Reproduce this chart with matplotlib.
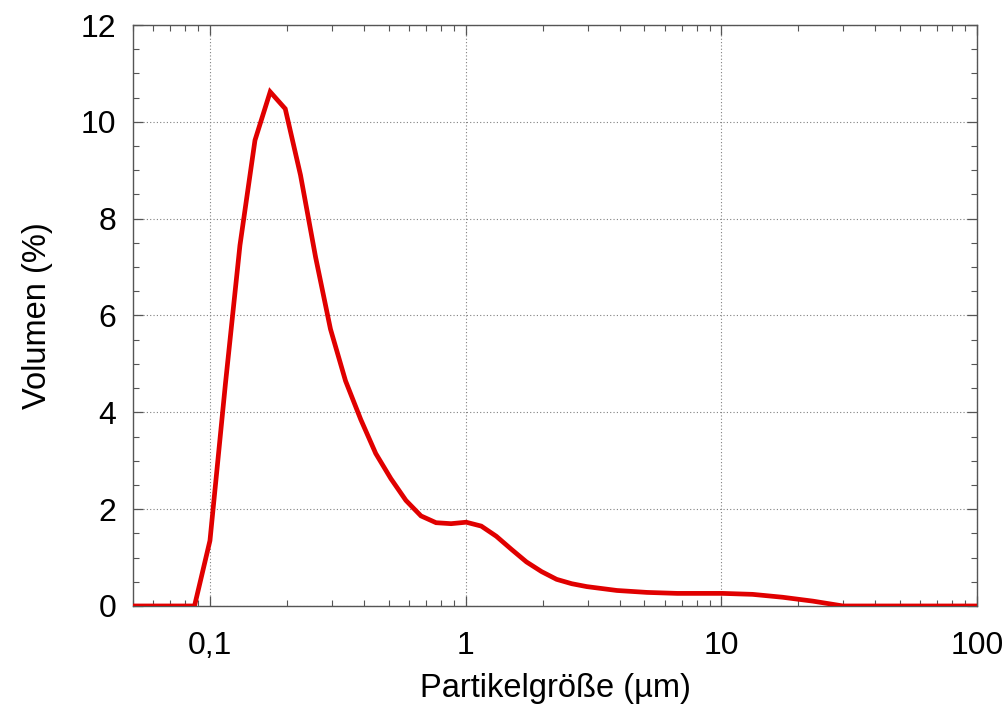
import numpy as np
import matplotlib.pyplot as plt
from matplotlib.ticker import FixedLocator, LogLocator, MultipleLocator, NullFormatter

# Partikelgrößenverteilung
groesse = [0.044, 0.051, 0.058, 0.067, 0.076, 0.087, 0.100, 0.115, 0.131, 0.150,
           0.172, 0.197, 0.226, 0.259, 0.296, 0.339, 0.389, 0.445, 0.510, 0.584,
           0.669, 0.766, 0.877, 1.005, 1.151, 1.318, 1.510, 1.729, 1.981, 2.269,
           2.599, 2.976, 3.409, 3.905, 4.472, 5.122, 5.867, 6.720, 7.697, 8.816,
           10.097, 11.565, 13.246, 15.172, 17.377, 19.904, 22.797, 26.111, 29.907, 34.255,
           39.234, 44.938, 51.471, 58.953, 67.523, 77.339, 88.583, 101.46]
volumen = [0, 0, 0, 0, 0, 0, 1.35, 4.6, 7.45, 9.62,
           10.62, 10.27, 8.9, 7.2, 5.72, 4.65, 3.85, 3.15, 2.63, 2.18,
           1.86, 1.72, 1.70, 1.73, 1.65, 1.44, 1.17, 0.91, 0.71, 0.55,
           0.46, 0.40, 0.36, 0.32, 0.30, 0.28, 0.27, 0.26, 0.26, 0.26,
           0.26, 0.25, 0.24, 0.21, 0.18, 0.14, 0.10, 0.05, 0, 0,
           0, 0, 0, 0, 0, 0, 0, 0]

xticks = [0.1, 1, 10, 100]
xticklabels = ['0,1', '1', '10', '100']

plt.rcParams['font.family'] = ['Liberation Sans', 'DejaVu Sans']

fig = plt.figure(figsize=(10.06, 7.07), dpi=100)
ax = fig.add_axes([0.1322, 0.1429, 0.8390, 0.8217])

ax.plot(groesse, volumen, color='#e00000', lw=3.4, solid_joinstyle='miter', zorder=3)

ax.set_xscale('log')
ax.set_xlim(0.05, 100)
ax.set_ylim(0, 12)

ax.xaxis.set_major_locator(FixedLocator(xticks))
ax.set_xticklabels(xticklabels)
ax.xaxis.set_minor_locator(LogLocator(base=10, subs=np.arange(2, 10), numticks=20))
ax.xaxis.set_minor_formatter(NullFormatter())
ax.yaxis.set_major_locator(MultipleLocator(2))
ax.yaxis.set_minor_locator(MultipleLocator(0.5))

ax.grid(True, which='major', ls=(0, (1, 2)), color='#808080', lw=0.8)
ax.tick_params(which='both', direction='in', top=True, right=True, colors='#555555',
               labelcolor='black', labelsize=23)
ax.tick_params(which='major', length=7, width=0.9)
ax.tick_params(axis='x', which='major', pad=18)
ax.tick_params(axis='y', which='major', pad=12)
ax.tick_params(which='minor', length=4, width=0.8)
for s in ax.spines.values():
    s.set_color('#555555')
    s.set_linewidth(1.0)

ax.set_xlabel('Partikelgröße (µm)', fontsize=23.5, labelpad=9)
ax.set_ylabel('Volumen (%)', fontsize=23.5, labelpad=20)

fig.savefig('out.png', dpi=100)
